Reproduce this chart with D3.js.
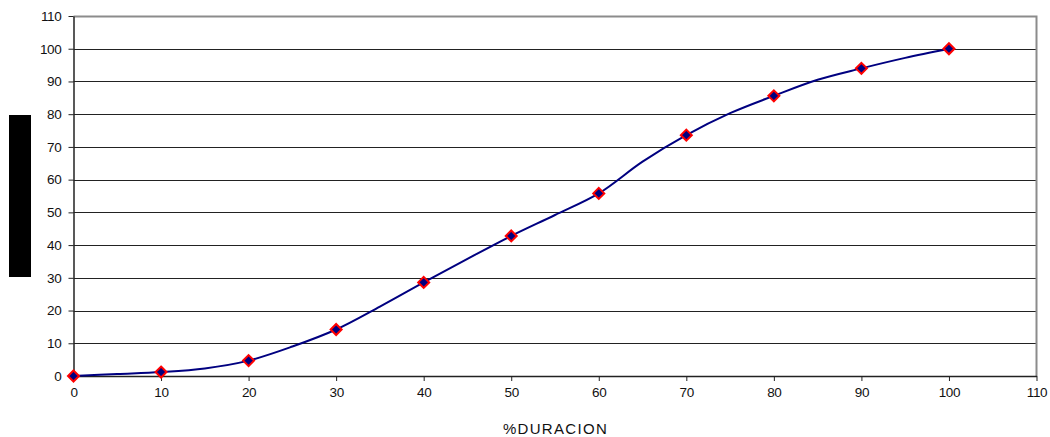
<!DOCTYPE html>
<html>
<head>
<meta charset="utf-8">
<script src="https://cdn.jsdelivr.net/npm/d3@7"></script>
<style>
  html, body { margin: 0; padding: 0; background: #fff; }
  svg { display: block; font-family: "Liberation Sans", Arial, sans-serif; }
</style>
</head>
<body>
<svg id="chart" width="1050" height="437"></svg>
<script>
// Accumulated progress (%) against duration (%)
const durationPct = [0, 10, 20, 30, 40, 50, 60, 70, 80, 90, 100];
const progressPct = [0, 1.2, 4.7, 14.2, 28.6, 42.8, 55.8, 73.6, 85.6, 94.0, 100];

// Denser points of the smoothed progress curve
const curveX = [0, 5, 10, 15, 20, 25, 30, 35, 40, 45, 50, 55, 60, 65, 70, 75, 80, 85, 90, 95, 100];
const curveY = [0, 0.6, 1.2, 2.3, 4.7, 9.0, 14.2, 21.2, 28.6, 35.8, 42.8, 49.2, 55.8, 65.5, 73.6, 80.3, 85.6, 90.5, 94.0, 97.2, 100];

const xTicks = [0, 10, 20, 30, 40, 50, 60, 70, 80, 90, 100, 110];
const yTicks = [0, 10, 20, 30, 40, 50, 60, 70, 80, 90, 100, 110];
const xTitle = "%DURACION";

const svg = d3.select("#chart");
const L = 73.5, R = 1036.5, T = 16, B = 376;

const x = d3.scaleLinear().domain([0, 110]).range([L, R]);
const y = d3.scaleLinear().domain([0, 110]).range([B, T]);

// Horizontal gridlines
svg.append("g")
  .selectAll("line")
  .data(yTicks.filter(d => d > 0 && d < 110))
  .join("line")
  .attr("x1", L).attr("x2", R)
  .attr("y1", d => Math.round(y(d)) + 0.5).attr("y2", d => Math.round(y(d)) + 0.5)
  .attr("stroke", "#222").attr("stroke-width", 1);

// Plot frame: grey top and right edges
svg.append("path")
  .attr("d", `M${L},${T + 0.5}H${R}V${B}`)
  .attr("fill", "none").attr("stroke", "#8c8c8c").attr("stroke-width", 2);

// Axes
const xAxis = d3.axisBottom(x).tickValues(xTicks).tickSize(5).tickPadding(6).tickSizeOuter(0);
const yAxis = d3.axisLeft(y).tickValues(yTicks).tickSize(5).tickPadding(7).tickSizeOuter(0);

const gx = svg.append("g").attr("transform", `translate(0,${B})`).call(xAxis);
const gy = svg.append("g").attr("transform", `translate(${L},0)`).call(yAxis);

[gx, gy].forEach(g => {
  g.select(".domain").attr("stroke", "#222").attr("stroke-width", 1.5);
  g.selectAll(".tick line").attr("stroke", "#222");
  g.selectAll(".tick text")
    .attr("font-family", "'Liberation Sans', Arial, sans-serif")
    .attr("font-size", 13.5)
    .attr("letter-spacing", "-0.3")
    .attr("fill", "#111");
});

// Axis title
svg.append("text")
  .attr("x", (L + R) / 2 + 0.5)
  .attr("y", 434)
  .attr("text-anchor", "middle")
  .attr("font-size", 15)
  .attr("letter-spacing", "1.3")
  .attr("fill", "#111")
  .text(xTitle);

// Vertical title block
svg.append("rect")
  .attr("x", 9).attr("y", 115).attr("width", 22).attr("height", 162)
  .attr("fill", "#000");

// Progress curve
const pts = curveX.map((d, i) => [x(d), y(curveY[i])]);
svg.append("path")
  .attr("d", d3.line().curve(d3.curveCatmullRom.alpha(0.5))(pts))
  .attr("fill", "none")
  .attr("stroke", "#000080")
  .attr("stroke-width", 2);

// Diamond markers
svg.append("g")
  .selectAll("path")
  .data(durationPct.map((d, i) => [d, progressPct[i]]))
  .join("path")
  .attr("transform", d => `translate(${x(d[0])},${y(d[1])})`)
  .attr("d", "M0,-5.5L5.5,0L0,5.5L-5.5,0Z")
  .attr("fill", "#000080")
  .attr("stroke", "#ff0000")
  .attr("stroke-width", 2);
</script>
</body>
</html>
